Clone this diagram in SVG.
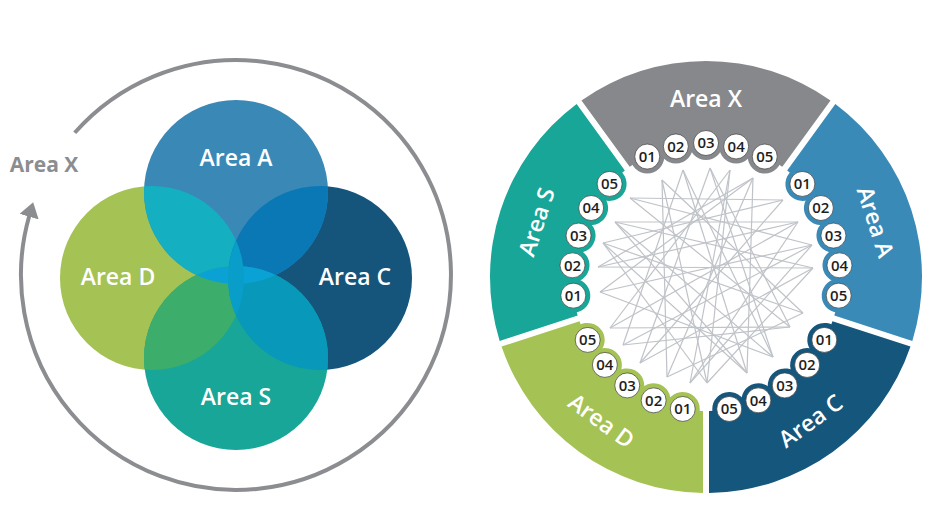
<svg xmlns="http://www.w3.org/2000/svg" xmlns:xlink="http://www.w3.org/1999/xlink" width="926" height="524" viewBox="0 0 926 524">
<style>
.lbl{font-family:"Open Sans","Liberation Sans",sans-serif;font-weight:600;font-size:23px;fill:#ffffff;text-anchor:middle}
.glbl{font-family:"Open Sans","Liberation Sans",sans-serif;font-weight:700;font-size:21px;fill:#8b8d90;text-anchor:middle}
.num circle{fill:#ffffff;stroke:#3a3a3a;stroke-width:0.7}
.num text{font-family:"Open Sans","Liberation Sans",sans-serif;font-weight:600;font-size:15px;fill:#1e1e1e;text-anchor:middle}
.tangle line{stroke:#bfc3c8;stroke-width:1.2}
</style>
<defs>
<clipPath id="cA"><circle cx="236" cy="192" r="92"/></clipPath>
<clipPath id="cD"><circle cx="152" cy="278" r="92"/></clipPath>
<clipPath id="cS"><circle cx="236" cy="358" r="92"/></clipPath>
<marker id="ah" markerUnits="userSpaceOnUse" markerWidth="15" markerHeight="20" viewBox="0 0 15 20" refX="1" refY="10" orient="auto">
<path d="M0,0 L15,10 L0,20 Z" fill="#8b8d90"/>
</marker>
<g id="wedge">
<path d="M -76.32,-110.14 L -124.52,-176.49 A 216 216 0 0 1 124.52,-176.49 L 76.32,-110.14 A 134 134 0 0 0 -76.32,-110.14 Z"/>
<circle cx="-58.74" cy="-120.44" r="17"/>
<circle cx="-30.14" cy="-130.57" r="17"/>
<circle cx="0" cy="-134" r="17"/>
<circle cx="30.14" cy="-130.57" r="17"/>
<circle cx="58.74" cy="-120.44" r="17"/>
</g>
</defs>
<rect width="926" height="524" fill="#ffffff"/>

<!-- LEFT: Venn -->
<g id="cycle-arrow">
<path d="M 74.7 132.8 A 215 215 0 1 1 29.3 215.7" fill="none" stroke="#8b8d90" stroke-width="4" marker-end="url(#ah)"/>
</g>
<g id="label-area-x-left"><text class="glbl" x="44" y="172">Area X</text></g>

<g id="venn-circles">
<circle id="circle-d" cx="152" cy="278" r="92" fill="#a5c254"/>
<circle id="circle-c" cx="320" cy="278" r="92" fill="#15557c"/>
<circle id="circle-s" cx="236" cy="358" r="92" fill="#17a698"/>
<circle id="circle-a" cx="236" cy="192" r="92" fill="#3a88b6"/>
<circle cx="152" cy="278" r="92" fill="#14afc1" clip-path="url(#cA)"/>
<circle cx="320" cy="278" r="92" fill="#0a78b5" clip-path="url(#cA)"/>
<circle cx="236" cy="358" r="92" fill="#3dad6c" clip-path="url(#cD)"/>
<circle cx="320" cy="278" r="92" fill="#0898b9" clip-path="url(#cS)"/>
<circle cx="236" cy="358" r="92" fill="#0aa2d4" clip-path="url(#cA)"/>
<circle cx="320" cy="278" r="92" fill="#099ec9" clip-path="url(#cD)"/>
</g>
<g id="venn-a"><text class="lbl" x="236" y="166">Area A</text></g>
<g id="venn-d"><text class="lbl" x="118" y="285">Area D</text></g>
<g id="venn-c"><text class="lbl" x="355" y="285">Area C</text></g>
<g id="venn-s"><text class="lbl" x="236" y="405">Area S</text></g>

<!-- RIGHT: wheel -->
<g id="connectors" class="tangle">
<line x1="630" y1="198" x2="783" y2="200"/>
<line x1="615" y1="222" x2="798" y2="222"/>
<line x1="598" y1="267" x2="813" y2="268"/>
<line x1="662" y1="180" x2="667" y2="377"/>
<line x1="753" y1="178" x2="747" y2="373"/>
<line x1="683" y1="170" x2="623" y2="345"/>
<line x1="683" y1="170" x2="747" y2="373"/>
<line x1="710" y1="168" x2="640" y2="363"/>
<line x1="710" y1="168" x2="773" y2="357"/>
<line x1="730" y1="170" x2="610" y2="328"/>
<line x1="730" y1="170" x2="690" y2="383"/>
<line x1="753" y1="178" x2="600" y2="292"/>
<line x1="753" y1="178" x2="667" y2="377"/>
<line x1="783" y1="200" x2="603" y2="243"/>
<line x1="783" y1="200" x2="640" y2="363"/>
<line x1="798" y1="222" x2="598" y2="267"/>
<line x1="798" y1="222" x2="690" y2="383"/>
<line x1="812" y1="245" x2="630" y2="198"/>
<line x1="812" y1="245" x2="623" y2="345"/>
<line x1="813" y1="268" x2="615" y2="222"/>
<line x1="813" y1="268" x2="707" y2="383"/>
<line x1="803" y1="313" x2="662" y2="180"/>
<line x1="803" y1="313" x2="603" y2="243"/>
<line x1="790" y1="327" x2="630" y2="198"/>
<line x1="790" y1="327" x2="710" y2="168"/>
<line x1="773" y1="357" x2="615" y2="222"/>
<line x1="773" y1="357" x2="683" y2="170"/>
<line x1="747" y1="373" x2="603" y2="243"/>
<line x1="707" y1="383" x2="730" y2="170"/>
<line x1="707" y1="383" x2="662" y2="180"/>
<line x1="690" y1="383" x2="812" y2="245"/>
<line x1="667" y1="377" x2="803" y2="313"/>
<line x1="640" y1="363" x2="813" y2="268"/>
<line x1="623" y1="345" x2="790" y2="327"/>
<line x1="610" y1="328" x2="798" y2="222"/>
<line x1="610" y1="328" x2="790" y2="327"/>
<line x1="600" y1="292" x2="812" y2="245"/>
<line x1="600" y1="292" x2="773" y2="357"/>
<line x1="598" y1="267" x2="753" y2="178"/>
<line x1="603" y1="243" x2="707" y2="383"/>
<line x1="615" y1="222" x2="747" y2="373"/>
</g>

<g id="sector-x">
<use xlink:href="#wedge" href="#wedge" transform="translate(706 277)" fill="#86888b"/>
<text class="lbl" transform="translate(706 277) rotate(0) translate(0 -178)" y="8">Area X</text>
<g class="num">
<circle cx="647.26" cy="156.56" r="12.5"/><text x="647.26" y="161.76">01</text>
<circle cx="675.85" cy="146.43" r="12.5"/><text x="675.85" y="151.63">02</text>
<circle cx="706" cy="143" r="12.5"/><text x="706" y="148.2">03</text>
<circle cx="736.15" cy="146.43" r="12.5"/><text x="736.15" y="151.63">04</text>
<circle cx="764.74" cy="156.56" r="12.5"/><text x="764.74" y="161.76">05</text>
</g>
</g>

<g id="sector-a">
<use xlink:href="#wedge" href="#wedge" transform="translate(706 277) rotate(72)" fill="#3a8ab8"/>
<text class="lbl" transform="translate(706 277) rotate(72) translate(0 -178)" y="8">Area A</text>
<g class="num">
<circle cx="802.39" cy="183.91" r="12.5"/><text x="802.39" y="189.11">01</text>
<circle cx="820.86" cy="208.00" r="12.5"/><text x="820.86" y="213.20">02</text>
<circle cx="833.45" cy="235.59" r="12.5"/><text x="833.45" y="240.79">03</text>
<circle cx="839.49" cy="265.32" r="12.5"/><text x="839.49" y="270.52">04</text>
<circle cx="838.70" cy="295.65" r="12.5"/><text x="838.70" y="300.85">05</text>
</g>
</g>

<g id="sector-c">
<use xlink:href="#wedge" href="#wedge" transform="translate(706 277) rotate(144)" fill="#15567c"/>
<text class="lbl" transform="translate(706 277) rotate(-36) translate(0 178)" y="8">Area C</text>
<g class="num">
<circle cx="824.31" cy="339.91" r="12.5"/><text x="824.31" y="345.11">01</text>
<circle cx="807.13" cy="364.92" r="12.5"/><text x="807.13" y="370.12">02</text>
<circle cx="784.76" cy="385.41" r="12.5"/><text x="784.76" y="390.61">03</text>
<circle cx="758.35" cy="400.35" r="12.5"/><text x="758.35" y="405.55">04</text>
<circle cx="729.26" cy="408.96" r="12.5"/><text x="729.26" y="414.16">05</text>
</g>
</g>

<g id="sector-d">
<use xlink:href="#wedge" href="#wedge" transform="translate(706 277) rotate(216)" fill="#a5c254"/>
<text class="lbl" transform="translate(706 277) rotate(36) translate(0 178)" y="8">Area D</text>
<g class="num">
<circle cx="682.74" cy="408.96" r="12.5"/><text x="682.74" y="414.16">01</text>
<circle cx="653.65" cy="400.35" r="12.5"/><text x="653.65" y="405.55">02</text>
<circle cx="627.24" cy="385.41" r="12.5"/><text x="627.24" y="390.61">03</text>
<circle cx="604.87" cy="364.92" r="12.5"/><text x="604.87" y="370.12">04</text>
<circle cx="587.69" cy="339.91" r="12.5"/><text x="587.69" y="345.11">05</text>
</g>
</g>

<g id="sector-s">
<use xlink:href="#wedge" href="#wedge" transform="translate(706 277) rotate(288)" fill="#17a698"/>
<text class="lbl" transform="translate(706 277) rotate(-72) translate(0 -178)" y="8">Area S</text>
<g class="num">
<circle cx="573.30" cy="295.65" r="12.5"/><text x="573.30" y="300.85">01</text>
<circle cx="572.51" cy="265.32" r="12.5"/><text x="572.51" y="270.52">02</text>
<circle cx="578.55" cy="235.59" r="12.5"/><text x="578.55" y="240.79">03</text>
<circle cx="591.14" cy="208.00" r="12.5"/><text x="591.14" y="213.20">04</text>
<circle cx="609.61" cy="183.91" r="12.5"/><text x="609.61" y="189.11">05</text>
</g>
</g>
</svg>
